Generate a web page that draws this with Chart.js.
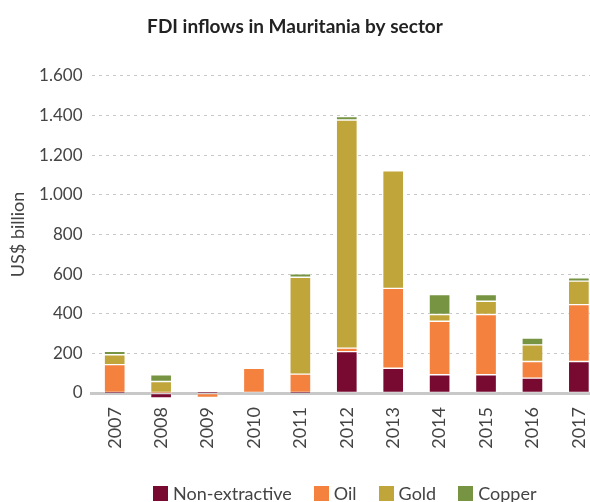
<!DOCTYPE html>
<html>
<head>
<meta charset="utf-8">
<script src="https://cdn.jsdelivr.net/npm/chart.js@4/dist/chart.umd.min.js"></script>
<style>
  html, body { margin: 0; padding: 0; background: #fff; overflow: hidden; }
  #wrap { position: relative; width: 590px; height: 502px; }
  #legend { position: absolute; top: 482px; left: 153px; display: flex; align-items: center;
            font-family: Lato, "Open Sans", sans-serif; font-size: 18px; color: #444; white-space: nowrap; }
  #legend .item { display: flex; align-items: center; margin-right: 22px; }
  #legend .sw { width: 15px; height: 15px; margin-right: 5px; display: inline-block; }
</style>
</head>
<body>
<div id="wrap">
  <canvas id="c" width="590" height="502"></canvas>
  <div id="legend"></div>
</div>
<script>
const years = ['2007','2008','2009','2010','2011','2012','2013','2014','2015','2016','2017'];
const nonExtractive = [3, -25, 3, 0, 3, 209, 125, 92, 92, 75, 159];
const oil           = [140, 3, -22, 125, 92, 17, 403, 270, 304, 84, 287];
const gold          = [50, 55, 0, 0, 489, 1151, 593, 34, 67, 84, 118];
const copper        = [17, 34, 0, 0, 17, 17, 0, 101, 34, 34, 17];
const yTicks = [0, 200, 400, 600, 800, 1000, 1200, 1400, 1600];

const seriesNames = ['Non-extractive', 'Oil', 'Gold', 'Copper'];
const seriesColors = ['#780a31', '#f5813f', '#bfa53a', '#779443'];
const seriesValues = [nonExtractive, oil, gold, copper];

const fontFam = 'Lato, "Open Sans", sans-serif';

const datasets = seriesValues.map((vals, k) => ({
  label: seriesNames[k],
  data: vals.map((v, i) => ({ x: i, y: v })),
  backgroundColor: seriesColors[k],
  borderColor: 'rgba(255,255,255,0.35)',
  borderWidth: 1,
  borderSkipped: false,
  barThickness: 21,
  clip: false
}));

new Chart(document.getElementById('c'), {
  type: 'bar',
  data: { datasets },
  options: {
    responsive: false,
    animation: false,
    layout: { autoPadding: false, padding: { left: 0, right: 0, top: 0, bottom: 48 } },
    plugins: {
      legend: { display: false },
      tooltip: { enabled: false },
      title: {
        display: true,
        text: 'FDI inflows in Mauritania by sector',
        color: '#222',
        font: { family: fontFam, size: 19, weight: 'bold' },
        padding: { top: 15, bottom: 38 }
      }
    },
    scales: {
      x: {
        type: 'linear',
        offset: false,
        stacked: true,
        min: -0.5,
        max: 10.24,
        z: 1,
        afterBuildTicks: s => { s.ticks = years.map((y, i) => ({ value: i })); },
        afterFit: s => { s.height = 61; s.paddingLeft = 0; s.paddingRight = 0; },
        grid: { display: false, drawTicks: false },
        border: { display: true, color: '#c8c8c8', width: 3 },
        ticks: {
          autoSkip: false,
          callback: v => years[v],
          minRotation: 90, maxRotation: 90,
          padding: 14,
          color: '#444',
          font: { family: fontFam, size: 18 }
        }
      },
      y: {
        stacked: true,
        min: 0,
        max: 1600,
        afterBuildTicks: s => { s.ticks = yTicks.map(v => ({ value: v })); },
        afterFit: s => { s.width = 91.5; s.paddingTop = 0; s.paddingBottom = 0; },
        grid: {
          drawTicks: false,
          color: ctx => ctx.tick && ctx.tick.value === 0 ? 'rgba(0,0,0,0)' : '#c8c8c8',
          lineWidth: 1
        },
        border: { display: false, dash: [3, 4] },
        ticks: {
          padding: 9,
          color: '#444',
          font: { family: fontFam, size: 17 },
          callback: v => v.toLocaleString('de-DE')
        },
        title: {
          display: true,
          text: 'US$ billion',
          color: '#444',
          font: { family: fontFam, size: 18 },
          padding: { top: 7, bottom: 0 }
        }
      }
    }
  }
});

const lg = document.getElementById('legend');
seriesNames.forEach((n, k) => {
  const it = document.createElement('span');
  it.className = 'item';
  const sw = document.createElement('span');
  sw.className = 'sw';
  sw.style.background = seriesColors[k];
  const tx = document.createElement('span');
  tx.textContent = n;
  it.appendChild(sw); it.appendChild(tx);
  lg.appendChild(it);
});
</script>
</body>
</html>
